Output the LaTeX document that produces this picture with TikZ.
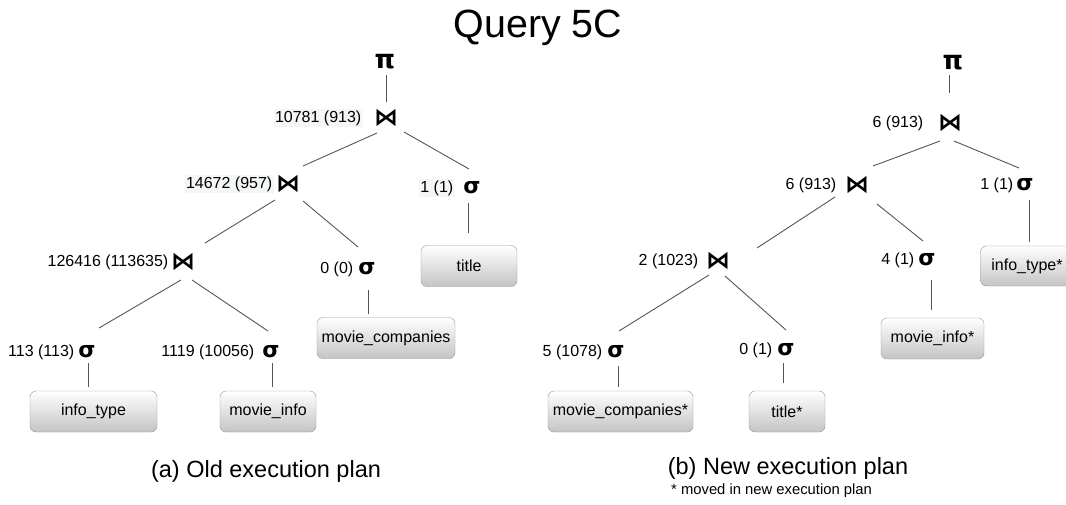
\documentclass[tikz,border=0pt]{standalone}
\usepackage{fontspec}
\setmainfont{Liberation Sans}
\newfontfamily\symfont{DejaVu Sans}
\usetikzlibrary{calc}

\definecolor{edgecol}{RGB}{85,85,85}
\definecolor{boxline}{RGB}{150,150,150}
\definecolor{boxbottom}{RGB}{196,196,196}
\definecolor{labelbg}{RGB}{244,246,248}

\tikzset{
  opsym/.style={inner sep=0pt},
  projop/.style={opsym, font=\symfont\bfseries\fontsize{26}{26}\selectfont},
  joinop/.style={opsym, font=\symfont\bfseries\fontsize{24}{24}\selectfont},
  selop/.style={opsym, font=\symfont\bfseries\fontsize{22}{22}\selectfont},
  card/.style={anchor=east, inner sep=1.5pt, font=\fontsize{16}{18}\selectfont},
  cardbg/.style={card, fill=labelbg},
  relbox/.style={draw=boxline, rounded corners=6pt, top color=white, bottom color=boxbottom,
              minimum height=41pt, inner sep=0pt, font=\fontsize{16}{18}\selectfont},
  link/.style={draw=edgecol, line width=0.9pt},
}

\begin{document}
\begin{tikzpicture}[x=1pt, y=-1pt]
\useasboundingbox (0,0) rectangle (1066,504);

\node (heading) at (538,28) {\fontsize{39.4}{42}\selectfont Query 5C};

% ---------- old plan ----------
\node[projop] (aP)  at (385,62)  {π};
\node[joinop] (aJ1) at (386,118) {⋈};
\node[joinop] (aJ2) at (288,184) {⋈};
\node[joinop] (aJ3) at (183,262) {⋈};
\node[selop]  (aS1) at (472,188) {σ};
\node[selop]  (aS2) at (367,269) {σ};
\node[selop]  (aS3) at (87,352)  {σ};
\node[selop]  (aS4) at (271,352) {σ};

\node[cardbg] (aL1) at (363,118) {10781 (913)};
\node[cardbg] (aL2) at (274,184) {14672 (957)};
\node[card]   (aL3) at (170,262) {126416 (113635)};
\node[cardbg] (aM1) at (455,188) {1 (1)};
\node[card]   (aM2) at (355,269) {0 (0)};
\node[card]   (aM3) at (76,352)  {113 (113)};
\node[card]   (aM4) at (256,352) {1119 (10056)};

\node[relbox, minimum width=96pt]  (aTitle) at (469,266)    {title};
\node[relbox, minimum width=138pt] (aMC)    at (386,338)    {movie\_companies};
\node[relbox, minimum width=127pt] (aIT)    at (93.5,411.5) {info\_type};
\node[relbox, minimum width=96pt]  (aMI)    at (268,411.5)  {movie\_info};

\draw[link] ($(aP)+(1,13)$)    -- ($(aJ1)+(0,-16)$);
\draw[link] ($(aJ1)+(-9,15)$)  -- ($(aJ2)+(15,-18)$);
\draw[link] ($(aJ1)+(18,14)$)  -- ($(aS1)+(-3,-19)$);
\draw[link] ($(aJ2)+(-13,16)$) -- ($(aJ3)+(22,-19)$);
\draw[link] ($(aJ2)+(15,17)$)  -- ($(aS2)+(-9,-22)$);
\draw[link] ($(aJ3)+(-2,18)$)  -- ($(aS3)+(12,-24)$);
\draw[link] ($(aJ3)+(9,18)$)   -- ($(aS4)+(-3,-21)$);
\draw[link] ($(aS1)+(-4,15)$)  -- ($(aTitle)+(-1,-33)$);
\draw[link] ($(aS2)+(1,21)$)   -- ($(aMC)+(-18,-24)$);
\draw[link] ($(aS3)+(1,11)$)   -- ($(aIT)+(-5.5,-24.5)$);
\draw[link] ($(aS4)+(1,11)$)   -- ($(aMI)+(4,-24.5)$);

% ---------- new plan ----------
\node[projop] (bP)  at (953,63)  {π};
\node[joinop] (bJ1) at (950,123) {⋈};
\node[joinop] (bJ2) at (857,185) {⋈};
\node[joinop] (bJ3) at (718,261) {⋈};
\node[selop]  (bS1) at (1025,185) {σ};
\node[selop]  (bS2) at (927,260) {σ};
\node[selop]  (bS3) at (616,352) {σ};
\node[selop]  (bS4) at (786,350) {σ};

\node[card] (bL1) at (925,123)  {6 (913)};
\node[card] (bL2) at (838,185)  {6 (913)};
\node[card] (bL3) at (700,261)  {2 (1023)};
\node[card] (bM1) at (1015,185) {1 (1)};
\node[card] (bM2) at (916,260)  {4 (1)};
\node[card] (bM3) at (604,352)  {5 (1078)};
\node[card] (bM4) at (774,350)  {0 (1)};

\node[relbox, minimum width=93pt, minimum height=40pt] (bIT) at (1027,266)    {info\_type*};
\node[relbox, minimum width=103pt] (bMI)    at (932.5,338.5) {movie\_info*};
\node[relbox, minimum width=145pt] (bMC)    at (620.5,411.5) {movie\_companies*};
\node[relbox, minimum width=76pt]  (bTitle) at (787,411.5)   {title*};

\draw[link] ($(bP)+(-4,12)$)   -- ($(bJ1)+(-1,-30)$);
\draw[link] ($(bJ1)+(-10,18)$) -- ($(bJ2)+(16,-19)$);
\draw[link] ($(bJ1)+(4,18)$)   -- ($(bS1)+(-6,-17)$);
\draw[link] ($(bJ2)+(-22,12)$) -- ($(bJ3)+(39,-13)$);
\draw[link] ($(bJ2)+(20,19)$)  -- ($(bS2)+(-4,-19)$);
\draw[link] ($(bJ3)+(-9,14)$)  -- ($(bS3)+(3,-21)$);
\draw[link] ($(bJ3)+(7,15)$)   -- ($(bS4)+(0,-20)$);
\draw[link] ($(bS1)+(4,15)$)   -- ($(bIT)+(2,-24)$);
\draw[link] ($(bS2)+(4,20)$)   -- ($(bMI)+(-1.5,-28.5)$);
\draw[link] ($(bS3)+(2,14)$)   -- ($(bMC)+(-2.5,-24.5)$);
\draw[link] ($(bS4)+(-3,13)$)  -- ($(bTitle)+(-4,-28.5)$);

% ---------- captions ----------
\node (capA) at (266,471) {\fontsize{23.5}{26}\selectfont (a) Old execution plan};
\node (capB) at (788,468) {\fontsize{23.5}{26}\selectfont (b) New execution plan};
\node[anchor=west, inner sep=0pt] (note) at (671,491) {\fontsize{14.8}{16}\selectfont * moved in new execution plan};
\end{tikzpicture}
\end{document}
